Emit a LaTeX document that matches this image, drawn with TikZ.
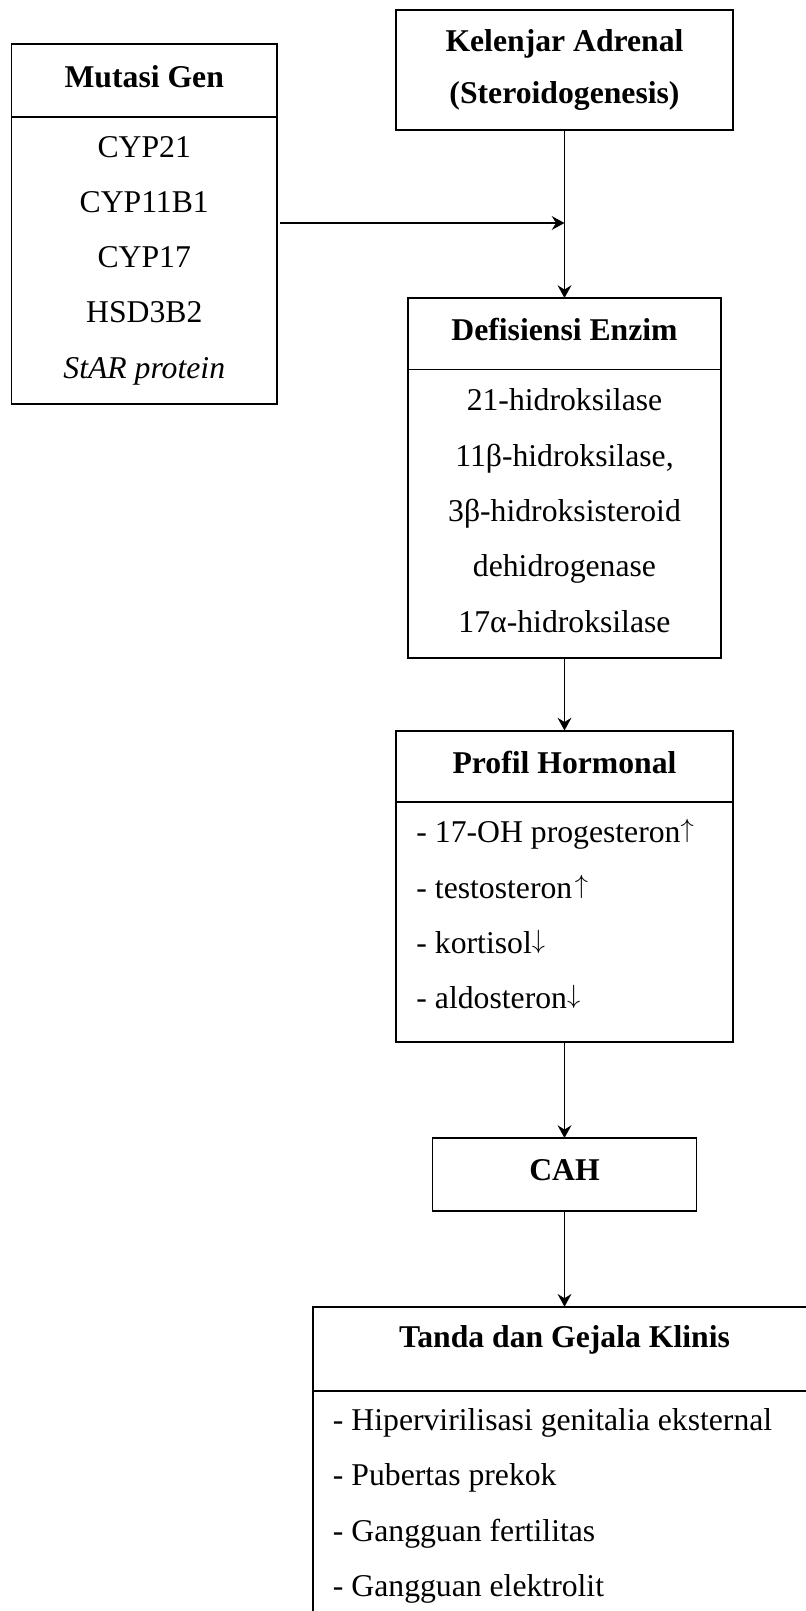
\documentclass[tikz,border=0pt]{standalone}
\usepackage{fontspec}
\setmainfont{Liberation Serif}
\usetikzlibrary{arrows.meta, positioning}
\newdimen\pxu \pxu=0.3786pt
\newcommand{\naik}{\raisebox{1.9pt}{\fontsize{10}{12}\selectfont$\uparrow$}}
\newcommand{\turun}{\raisebox{1.9pt}{\fontsize{10}{12}\selectfont$\downarrow$}}
\tikzset{
  every picture/.style={font=\fontsize{12}{20.93}\selectfont, line width=0.75pt},
  box/.style={draw, rectangle, align=center, inner sep=0pt, outer sep=0pt, minimum width=#1},
  box/.default=100\pxu,
  head/.style={font=\fontsize{12}{20.93}\selectfont\bfseries},
  title/.style={text depth=3pt},
  list/.style={align=left, inner sep=0pt, anchor=north west},
  arrow/.style={-{Stealth[length=4.8pt, width=5.2pt, inset=1.6pt]}, line width=0.75pt},
}

\begin{document}
\begin{tikzpicture}[x=\pxu, y=-\pxu]
  \useasboundingbox (0,0) rectangle (806,1611);
  \clip (0,0) rectangle (806,1611);
  \node[box=265.5\pxu, head, title, minimum height=73\pxu] (mg-head) at (144.25,80.5) {Mutasi Gen};
  \node[box=265.5\pxu, minimum height=287\pxu, below=0pt of mg-head] (mg-body) {CYP21\\CYP11B1\\CYP17\\HSD3B2\\\textit{StAR protein}};
  \node[box=337\pxu, head, font=\fontsize{12}{19.5}\selectfont\bfseries, minimum height=120\pxu] (ka) at (564.5,70) {Kelenjar Adrenal\\(Steroidogenesis)};
  \node[box=313\pxu, head, title, minimum height=71.5\pxu] (de-head) at (564.5,333.75) {Defisiensi Enzim};
  \node[box=313\pxu, minimum height=288.5\pxu, below=0pt of de-head] (de-body) {21-hidroksilase\\11β-hidroksilase,\\3β-hidroksisteroid\\dehidrogenase\\17α-hidroksilase\rule[-2.5pt]{0pt}{2.5pt}};
  \node[box=337\pxu, head, title, minimum height=71.5\pxu] (ph-head) at (564.5,766.25) {Profil Hormonal};
  \node[box=337\pxu, minimum height=240\pxu, below=0pt of ph-head] (ph-body) {};
  \node[list] (ph-list) at ([shift={(19.5,16.6)}]ph-body.north west) {- 17-OH progesteron\naik\\- testosteron\kern1pt\naik\\- kortisol\turun\\- aldosteron\turun};
  \node[box=264\pxu, head, title, minimum height=72.5\pxu] (cah) at (564.5,1174.25) {CAH};
  \node[box=502.4\pxu, head, minimum height=84\pxu, text depth=9.4pt] (tg-head) at (564.5,1348.7) {Tanda dan Gejala Klinis};
  \node[box=502.4\pxu, minimum height=300\pxu, below=0pt of tg-head] (tg-body) {};
  \node[list] (tg-list) at ([shift={(18.7,17)}]tg-body.north west) {- Hipervirilisasi genitalia eksternal\\- Pubertas prekok\\- Gangguan fertilitas\\- Gangguan elektrolit};
  \coordinate (merge) at (564.5,223);
  \draw[arrow, shorten <=3\pxu] (mg-body.east |- merge) -- (merge);
  \foreach \from/\to in {ka/de-head, de-body/ph-head, ph-body/cah, cah/tg-head}
    \draw[arrow] (\from) -- (\to);
\end{tikzpicture}
\end{document}
